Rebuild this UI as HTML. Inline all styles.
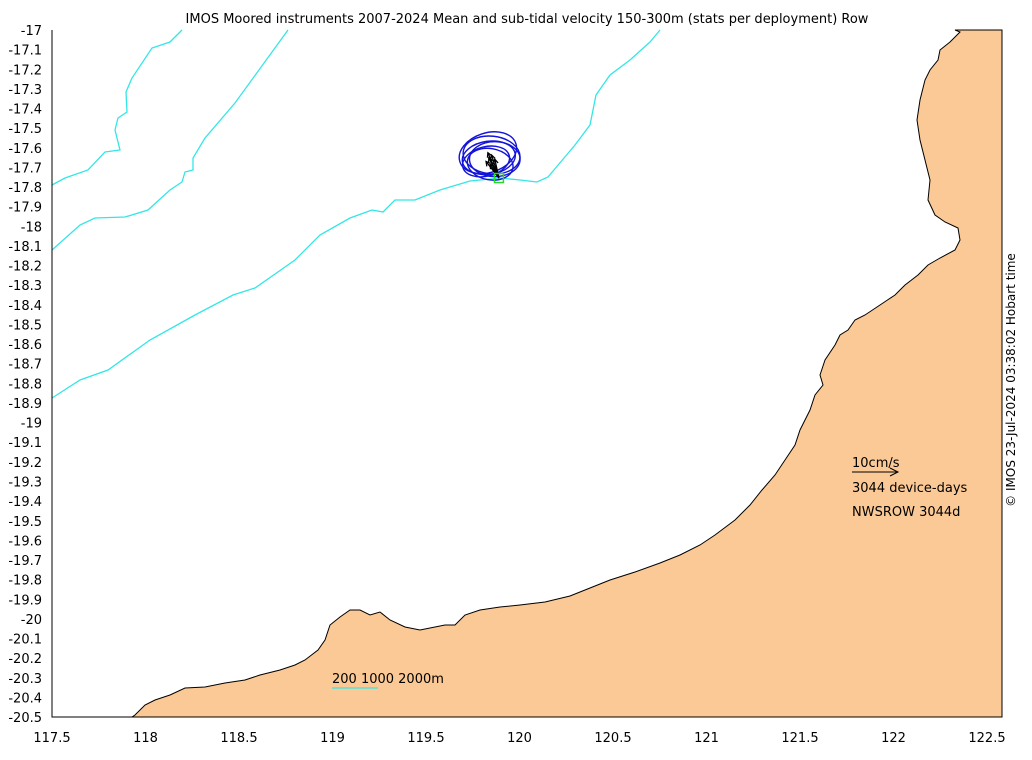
<!DOCTYPE html>
<html><head><meta charset="utf-8"><style>
body{margin:0;background:#fff;}
svg{display:block;font-family:"DejaVu Sans","Liberation Sans",sans-serif;}
</style></head><body>
<svg id="chart" width="1032" height="760" viewBox="0 0 1032 760">
<text x="527" y="23" font-size="13" text-anchor="middle">IMOS Moored instruments 2007-2024 Mean and sub-tidal velocity 150-300m (stats per deployment) Row</text>
<g id="land">
<path fill="#fbc995" stroke="#000" stroke-width="1" d="M955,30 L960,32 950,42 940,50 938,60 930,70 925,80 920,100 917,120 920,140 925,160 930,180 928,200 935,215 945,222 958,228 960,240 955,250 940,258 928,265 918,275 905,285 895,295 880,305 865,315 855,320 848,330 840,335 835,345 825,360 820,375 823,385 815,395 810,410 800,430 795,445 785,460 775,475 762,490 750,505 735,520 715,535 700,545 680,555 660,563 635,572 610,580 590,588 570,596 545,602 520,605 500,607 480,610 465,615 455,625 445,625 420,630 405,627 390,620 380,612 370,615 360,610 350,610 340,617 330,625 325,640 318,650 305,660 295,665 280,670 260,675 245,680 225,683 205,687 185,688 170,695 155,700 145,705 135,715 132,717 1002,717 1002,30 Z"/>
</g>
<g fill="none" stroke="#33e6e6" stroke-width="1.3">
<polyline points="52,185 65,178 88,170 105,152 120,150 115,130 118,118 127,112 126,92 132,78 152,48 170,42 182,30"/>
<polyline points="52,250 80,225 95,218 125,217 148,210 170,190 182,182 185,172 193,170 193,158 205,138 235,103 288,30"/>
<polyline points="52,398 80,380 108,370 150,340 195,315 233,295 255,288 295,260 320,235 350,218 372,210 383,212 395,200 415,200 440,190 470,181 500,178 520,180 537,182 548,177 575,145 590,125 596,95 610,75 630,60 650,42 660,30"/>
</g>
<g id="marks"></g>
<path d="M52,30 L52,717 L1002,717" fill="none" stroke="#000" stroke-width="1"/>
<g id="xticks" font-size="13" text-anchor="middle"></g>
<g id="yticks" font-size="13" text-anchor="end"></g>
<g font-size="13">
<text x="852" y="467">10cm/s</text>
<line x1="852" y1="472" x2="898" y2="472" stroke="#000"/>
<path d="M890,468 L898,472 890,476" fill="none" stroke="#000"/>
<text x="852" y="492">3044 device-days</text>
<text x="852" y="516">NWSROW 3044d</text>
<text x="332" y="683">200 1000 2000m</text>
<line x1="332" y1="688" x2="378" y2="688" stroke="#33e6e6" stroke-width="1.3"/>
</g>
<text transform="translate(1015,380) rotate(-90)" font-size="12" text-anchor="middle">© IMOS 23-Jul-2024 03:38:02 Hobart time</text>
</svg>
<script>
const xTicks=[117.5,118,118.5,119,119.5,120,120.5,121,121.5,122,122.5];
const yTicks=[-17,-17.1,-17.2,-17.3,-17.4,-17.5,-17.6,-17.7,-17.8,-17.9,-18,-18.1,-18.2,-18.3,-18.4,-18.5,-18.6,-18.7,-18.8,-18.9,-19,-19.1,-19.2,-19.3,-19.4,-19.5,-19.6,-19.7,-19.8,-19.9,-20,-20.1,-20.2,-20.3,-20.4,-20.5];
const mooringLon=119.89, mooringLat=-17.754;
const meanU=[-2.2,-1.6,-2.8,-0.9,-2.4,-1.9];
const meanV=[4.4,5.0,3.6,4.1,5.5,3.0];
const majorAxis=[5.8,6.2,5.2,5.5,6.4,5.0];
const minorAxis=[3.6,4.1,3.2,3.8,4.3,3.4];
const ellAngle=[8,-6,14,0,18,-10];
const X=lon=>52+(lon-117.5)*187;
const Y=lat=>30+(-17-lat)*196.3;
const S=4.6; // px per cm/s (from 10cm/s scale)
const NS="http://www.w3.org/2000/svg";
const mk=(t,a,p)=>{const e=document.createElementNS(NS,t);for(const k in a)e.setAttribute(k,a[k]);p.appendChild(e);return e;};
const xt=document.getElementById('xticks'),yt=document.getElementById('yticks'),m=document.getElementById('marks');
xTicks.forEach(v=>{const t=mk('text',{x:X(v),y:742},xt);t.textContent=String(v);

});
yTicks.forEach(v=>{const t=mk('text',{x:42,y:Y(v)+5},yt);t.textContent=String(v);

});
const mx=X(mooringLon),my=Y(mooringLat);
meanU.forEach((u,i)=>{const cx=mx+u*S,cy=my-meanV[i]*S;
const e=mk('ellipse',{cx:cx,cy:cy,rx:majorAxis[i]*S,ry:minorAxis[i]*S,transform:`rotate(${-ellAngle[i]} ${cx} ${cy})`,fill:'none',stroke:'#1414d8','stroke-width':1.4},m);

});
meanU.forEach((u,i)=>{const cx=mx+u*S,cy=my-meanV[i]*S;
const l=mk('line',{x1:mx,y1:my,x2:cx,y2:cy,stroke:'#000','stroke-width':1.3},m);


const a=Math.atan2(cy-my,cx-mx),h=5;
mk('path',{d:`M${cx-h*Math.cos(a-0.5)},${cy-h*Math.sin(a-0.5)} L${cx},${cy} L${cx-h*Math.cos(a+0.5)},${cy-h*Math.sin(a+0.5)}`,fill:'none',stroke:'#000','stroke-width':1.3},m);});
const sq=mk('rect',{x:mx-4.5,y:my-4.5,width:9,height:9,fill:'none',stroke:'#22dd22','stroke-width':1.5},m);


</script>
</body></html>
